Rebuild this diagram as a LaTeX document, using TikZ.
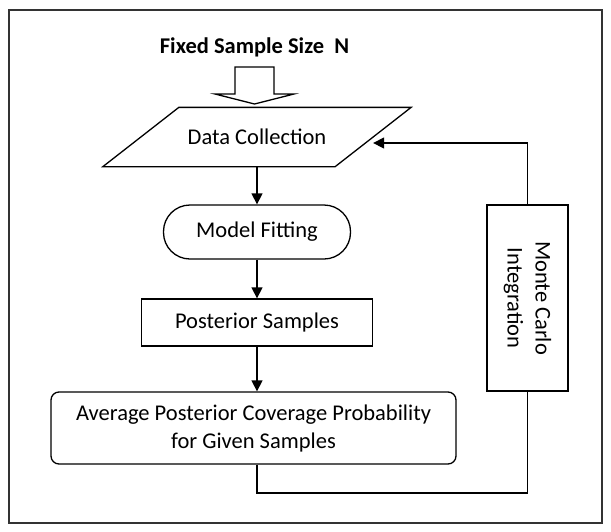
\documentclass[tikz,border=0pt]{standalone}
\usepackage{fontspec}
\setmainfont{Carlito}
\usepackage{xcolor}
\definecolor{framegray}{HTML}{333333}
\usetikzlibrary{arrows.meta}

\begin{document}
\begin{tikzpicture}[x=1pt,y=-1pt,line width=1.3pt,
  font=\fontsize{22.5}{28}\selectfont,
  flowbox/.style={draw,inner sep=0pt,align=center},
  flowarrow/.style={-{Triangle[length=11pt,width=11pt]}}]
  \useasboundingbox (0,0) rectangle (611,531);
  % outer frame
  \draw[framegray,line width=2pt] (9,10) rectangle (602,523);
  % input
  \node[anchor=base,font=\bfseries\fontsize{22.5}{28}\selectfont] (title) at (254.5,53)
    {Fixed Sample Size\ \ N};
  \draw[line join=miter] (235,67) -- (274,67) -- (274,94) -- (294,94) -- (254.5,104)
    -- (215,94) -- (235,94) -- cycle;
  % data collection (parallelogram round a plain node)
  \node[minimum width=231pt,minimum height=58pt] (data) at (257,137) {Data Collection};
  \draw ([xshift=-38pt]data.south west) -- ([xshift=-38pt]data.south east)
    -- ([xshift=38pt]data.north east) -- ([xshift=38pt]data.north west) -- cycle;
  % main chain
  \node[flowbox,rounded corners=26.5pt,minimum width=187pt,minimum height=54pt] (model)
    at (257,232) {Model Fitting};
  \node[flowbox,minimum width=231pt,minimum height=47pt] (post) at (257,322.5)
    {Posterior Samples};
  \node[flowbox,rounded corners=8pt,minimum width=405pt,minimum height=72pt] (avg)
    at (253.5,428) {Average Posterior Coverage Probability\\for Given Samples};
  \node[flowbox,rotate=-90,minimum width=186pt,minimum height=81pt] (mc) at (527.5,298)
    {Monte Carlo\\Integration};
  \draw[flowarrow] (data) -- (model);
  \draw[flowarrow] (model) -- (post);
  \draw[flowarrow] (post) -- (post |- avg.north);
  % feedback loop
  \coordinate (loopcorner) at (527.5,493);
  \draw (post |- avg.south) |- (loopcorner) -- (mc);
  \draw[flowarrow] (mc) |- ([yshift=-6pt]data.east);
\end{tikzpicture}
\end{document}
